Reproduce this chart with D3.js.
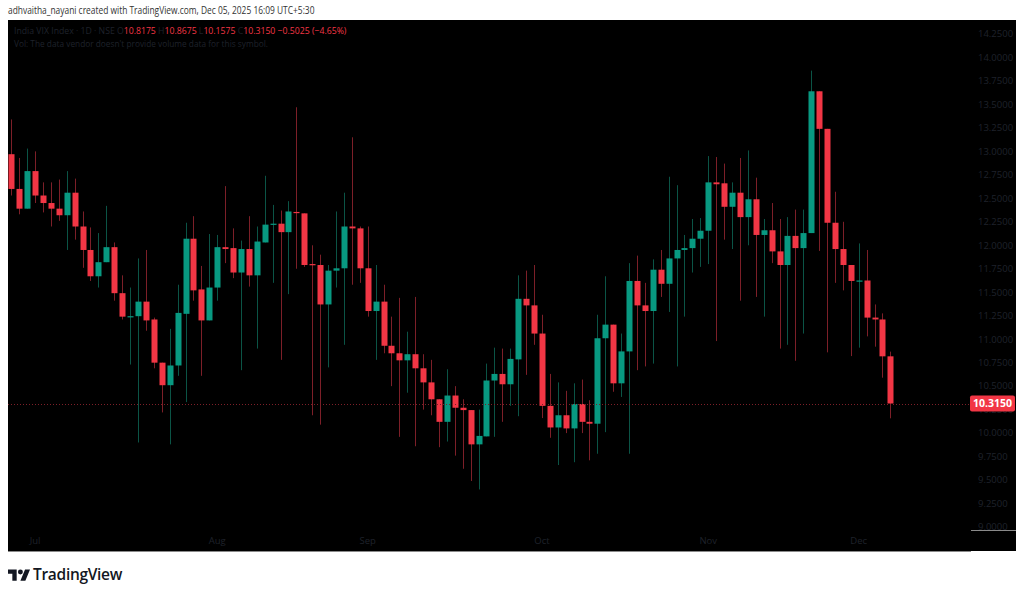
<!DOCTYPE html>
<html><head><meta charset="utf-8">
<script src="https://cdn.jsdelivr.net/npm/d3@7/dist/d3.min.js"></script>
<style>
html,body{margin:0;padding:0;background:#fff;}
svg{display:block;font-family:"Open Sans","Noto Sans",sans-serif;}
</style></head>
<body>
<svg id="chart" width="1024" height="595"></svg>
<script>
const dates = [
"2025-06-26","2025-06-27","2025-06-30",
"2025-07-01","2025-07-02","2025-07-03","2025-07-04","2025-07-07","2025-07-08","2025-07-09","2025-07-10","2025-07-11","2025-07-14","2025-07-15","2025-07-16","2025-07-17","2025-07-18","2025-07-21","2025-07-22","2025-07-23","2025-07-24","2025-07-25","2025-07-28","2025-07-29","2025-07-30","2025-07-31",
"2025-08-01","2025-08-04","2025-08-05","2025-08-06","2025-08-07","2025-08-08","2025-08-11","2025-08-12","2025-08-13","2025-08-14","2025-08-18","2025-08-19","2025-08-20","2025-08-21","2025-08-22","2025-08-25","2025-08-26","2025-08-28","2025-08-29",
"2025-09-01","2025-09-02","2025-09-03","2025-09-04","2025-09-05","2025-09-08","2025-09-09","2025-09-10","2025-09-11","2025-09-12","2025-09-15","2025-09-16","2025-09-17","2025-09-18","2025-09-19","2025-09-22","2025-09-23","2025-09-24","2025-09-25","2025-09-26","2025-09-29","2025-09-30",
"2025-10-01","2025-10-03","2025-10-06","2025-10-07","2025-10-08","2025-10-09","2025-10-10","2025-10-13","2025-10-14","2025-10-15","2025-10-16","2025-10-17","2025-10-20","2025-10-21","2025-10-23","2025-10-24","2025-10-27","2025-10-28","2025-10-29","2025-10-30","2025-10-31",
"2025-11-03","2025-11-04","2025-11-06","2025-11-07","2025-11-10","2025-11-11","2025-11-12","2025-11-13","2025-11-14","2025-11-17","2025-11-18","2025-11-19","2025-11-20","2025-11-21","2025-11-24","2025-11-25","2025-11-26","2025-11-27","2025-11-28",
"2025-12-01","2025-12-02","2025-12-03","2025-12-04","2025-12-05"];

const open = [12.97,12.60,12.39,12.79,12.53,12.45,12.39,12.32,12.56,12.20,11.95,11.67,11.82,11.98,11.49,11.24,11.245,11.40,11.21,10.75,10.51,10.72,11.27,12.07,11.53,11.20,11.55,11.98,11.97,11.71,11.96,11.68,12.03,12.22,12.23,12.14,12.355,12.34,11.80,11.79,11.37,11.73,11.755,12.20,12.18,11.755,11.30,11.40,10.93,10.85,10.775,10.84,10.69,10.54,10.36,10.12,10.40,10.27,10.245,9.88,9.965,10.56,10.63,10.52,10.785,11.43,11.36,11.06,10.29,10.06,10.19,10.05,10.31,10.12,10.10,11.01,11.155,10.53,10.87,11.62,11.36,11.30,11.74,11.59,11.86,11.95,11.97,12.07,12.155,12.67,12.66,12.41,12.56,12.30,12.49,12.11,12.16,11.935,11.79,12.10,11.97,12.13,13.64,13.24,12.24,11.96,11.79,11.615,11.625,11.23,11.21,10.8175];
const high = [13.34,12.93,13.03,13.00,12.67,12.67,12.70,12.79,12.71,12.36,12.19,12.13,12.42,12.03,11.68,11.55,11.86,11.95,11.23,10.75,11.11,11.58,12.24,12.31,11.78,12.12,12.11,12.63,12.18,12.05,12.31,12.20,12.74,12.43,12.37,12.47,13.47,12.34,12.00,11.90,11.79,12.36,12.56,13.15,12.20,12.20,11.79,11.58,11.24,11.44,11.08,11.45,10.84,10.78,10.36,10.68,10.50,10.36,10.245,10.25,10.74,10.91,10.90,10.90,11.68,11.73,11.79,11.26,10.63,10.54,10.45,10.53,10.57,10.35,11.26,11.67,11.155,11.06,11.81,11.89,11.60,11.85,11.95,12.73,12.64,12.11,12.28,12.29,12.95,12.94,12.87,12.67,12.93,13.01,12.72,12.28,12.45,12.28,12.30,12.38,12.38,13.86,13.64,13.24,12.57,12.25,11.79,12.02,11.95,11.37,11.275,10.8675];
const low = [12.53,12.33,12.39,12.45,12.35,12.20,12.26,11.95,12.06,11.76,11.62,11.55,11.82,11.41,11.21,10.73,9.90,11.09,10.69,10.22,9.88,10.61,10.33,11.41,10.61,11.20,11.41,11.81,11.65,10.67,11.56,10.90,12.03,11.60,10.78,11.48,11.75,11.77,10.19,10.09,10.70,11.55,10.94,11.58,11.60,11.24,10.78,10.85,10.50,9.96,10.43,9.86,10.25,10.19,9.85,9.91,9.76,9.62,9.49,9.40,9.965,9.96,10.12,10.29,10.18,10.62,10.94,10.16,9.95,9.66,10.00,9.69,10.00,9.71,9.78,10.01,10.44,10.385,9.78,10.67,10.71,10.74,11.45,11.29,10.71,11.24,11.71,11.77,11.80,10.98,12.06,11.96,11.41,12.00,11.45,11.24,11.81,10.90,10.94,10.77,11.06,12.13,11.94,10.86,11.60,11.52,10.82,10.91,11.03,10.92,10.59,10.1575];
const close = [12.60,12.39,12.79,12.53,12.45,12.39,12.32,12.56,12.20,11.95,11.67,11.82,11.98,11.49,11.24,11.245,11.40,11.20,10.75,10.51,10.72,11.28,12.07,11.52,11.20,11.55,11.98,11.96,11.71,11.96,11.68,12.04,12.22,12.23,12.14,12.36,12.345,11.79,11.79,11.37,11.73,11.755,12.20,12.18,11.755,11.30,11.40,10.93,10.85,10.775,10.84,10.69,10.54,10.36,10.12,10.40,10.27,10.245,9.88,9.97,10.56,10.63,10.52,10.79,11.43,11.36,11.06,10.29,10.06,10.19,10.05,10.31,10.12,10.10,11.01,11.155,10.53,10.87,11.62,11.36,11.30,11.74,11.59,11.86,11.95,11.97,12.07,12.155,12.67,12.65,12.41,12.56,12.30,12.49,12.11,12.16,11.935,11.79,12.10,11.97,12.13,13.64,13.24,12.24,11.96,11.79,11.62,11.625,11.23,11.21,10.8175,10.315];

const priceTicks = [9.0,9.25,9.5,9.75,10.0,10.25,10.5,10.75,11.0,11.25,11.5,11.75,12.0,12.25,12.5,12.75,13.0,13.25,13.5,13.75,14.0,14.25];
const monthTicks = [["2025-07-01","Jul"],["2025-08-01","Aug"],["2025-09-01","Sep"],["2025-10-01","Oct"],["2025-11-03","Nov"],["2025-12-01","Dec"]];
const lastPrice = 10.315;

const UP = "#089981", DOWN = "#f23645";
const UPW = "#0b5446", DOWNW = "#7d1f28";
const DIM = "#1f222b";

const svg = d3.select("#chart");
svg.append("rect").attr("x",8).attr("y",20).attr("width",1008).attr("height",531).attr("fill","#000");

const x = d3.scalePoint().domain(dates).range([11.3, 890.4]);
const y = d3.scaleLinear().domain([9.0, 14.25]).range([527, 34]);

const data = dates.map((d,i)=>({d, o:open[i], h:high[i], l:low[i], c:close[i]}));

const g = svg.append("g");
g.selectAll("line.wick").data(data).join("line")
  .attr("x1",d=>Math.round(x(d.d))+0.5).attr("x2",d=>Math.round(x(d.d))+0.5)
  .attr("y1",d=>y(d.h)).attr("y2",d=>y(d.l))
  .attr("stroke",d=>d.c>=d.o?UPW:DOWNW).attr("stroke-width",1);
const bw = 6;
g.selectAll("rect.body").data(data).join("rect")
  .attr("x",d=>Math.round(x(d.d))+0.5-bw/2)
  .attr("y",d=>y(Math.max(d.o,d.c)))
  .attr("width",bw)
  .attr("height",d=>Math.max(1.2, Math.abs(y(d.o)-y(d.c))))
  .attr("fill",d=>d.c>=d.o?UP:DOWN);

svg.append("line").attr("x1",8).attr("x2",970).attr("y1",Math.round(y(lastPrice))+0.5).attr("y2",Math.round(y(lastPrice))+0.5)
  .attr("stroke","#7d1f28").attr("stroke-width",1).attr("stroke-dasharray","1,2");

svg.append("g").selectAll("text").data(priceTicks).join("text")
  .attr("x",978).attr("y",d=>y(d)).attr("dy","0.35em")
  .attr("font-size",9.5).attr("fill",DIM)
  .text(d=>d.toFixed(4));

const ly = y(lastPrice);
svg.append("rect").attr("x",970).attr("y",ly-8).attr("width",45).attr("height",16).attr("rx",2).attr("fill",DOWN);
svg.append("text").attr("x",992.5).attr("y",ly).attr("dy","0.36em").attr("text-anchor","middle")
  .attr("font-size",10.5).attr("font-weight","bold").attr("fill","#fff").text(lastPrice.toFixed(4));

svg.append("g").selectAll("text").data(monthTicks).join("text")
  .attr("x",d=>x(d[0])).attr("y",541).attr("dy","0.35em").attr("text-anchor","middle")
  .attr("font-size",9.5).attr("fill",DIM).text(d=>d[1]);
svg.append("line").attr("x1",8).attr("x2",971).attr("y1",551.5).attr("y2",551.5).attr("stroke","#8a8a8a");
svg.append("line").attr("x1",971).attr("x2",1016).attr("y1",530.5).attr("y2",530.5).attr("stroke","#8a8a8a");

// helper: squeeze a text horizontally to a target width
function fitWidth(sel, x0, target){
  const w = sel.node().getComputedTextLength();
  const s = target / w;
  sel.attr("transform", `translate(${x0},0) scale(${s},1) translate(${-x0},0)`);
}

const hdr = svg.append("text").attr("x",8).attr("y",14).attr("font-size",10.5).attr("fill","#333")
  .text("adhvaitha_nayani created with TradingView.com, Dec 05, 2025 16:09 UTC+5:30");
fitWidth(hdr, 8, 307);

const lg = svg.append("text").attr("x",14).attr("y",34).attr("font-size",9.8).attr("fill",DIM);
lg.append("tspan").text("India VIX Index · 1D · NSE  O");
lg.append("tspan").attr("fill",DOWN).text("10.8175");
lg.append("tspan").text(" H");
lg.append("tspan").attr("fill",DOWN).text("10.8675");
lg.append("tspan").text(" L");
lg.append("tspan").attr("fill",DOWN).text("10.1575");
lg.append("tspan").text(" C");
lg.append("tspan").attr("fill",DOWN).text("10.3150 −0.5025 (−4.65%)");
fitWidth(lg, 14, 333);

const vol = svg.append("text").attr("x",14).attr("y",47).attr("font-size",9.8).attr("fill",DIM)
  .text("Vol: The data vendor doesn't provide volume data for this symbol.");
fitWidth(vol, 14, 254);

const logo = svg.append("g").attr("transform","translate(8,567) scale(0.62)").attr("fill","#131722");
logo.append("path").attr("d","M14 22H7V11H0V4h14v18zM28 22h-8l7.5-18h8L28 22z");
logo.append("circle").attr("cx",20).attr("cy",8).attr("r",4);
svg.append("text").attr("x",33).attr("y",580).attr("font-size",15.5).attr("font-weight","600")
  .attr("fill","#131722").attr("letter-spacing","-0.3").text("TradingView");
</script>
</body></html>
